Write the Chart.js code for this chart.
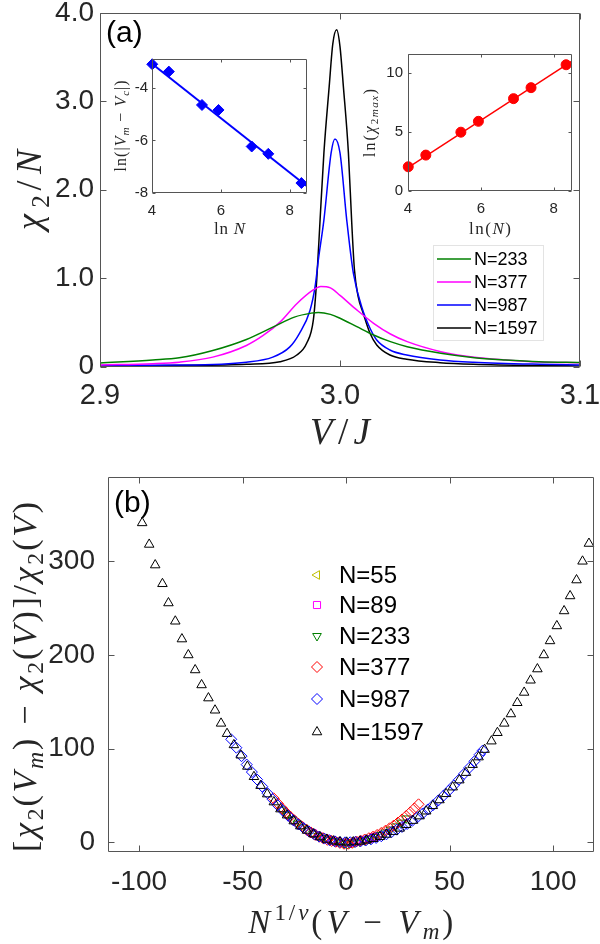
<!DOCTYPE html>
<html lang="en">
<head>
<meta charset="UTF-8" />
<title>chi2 finite size scaling</title>
<style>
  body { margin: 0; background: #fff; }
  #wrap { position: relative; width: 600px; height: 944px; overflow: hidden; }
  canvas { position: absolute; }
</style>
</head>
<body>
<div id="wrap">
  <canvas id="chartA" width="600" height="470" style="left:0;top:0"></canvas>
  <canvas id="insetL" width="215" height="190" style="left:100px;top:50px"></canvas>
  <canvas id="insetR" width="240" height="195" style="left:355px;top:45px"></canvas>
  <canvas id="chartB" width="600" height="474" style="left:0;top:470px"></canvas>
</div>

<script src="https://cdn.jsdelivr.net/npm/chart.js"></script>
<script>
const SANS = '"Liberation Sans", Arial, sans-serif';
const SERIF = '"Liberation Serif", "Times New Roman", serif';
const INK = '#262626';
const AXIS = '#555555';

// ---- panel (a): chi2/N against V/J ----
const vTicksA = [2.9, 3.0, 3.1];
const vLabelsA = ['2.9', '3.0', '3.1'];
const chiTicksA = [0, 1, 2, 3, 4];
const chiLabelsA = ['0', '1.0', '2.0', '3.0', '4.0'];
const namesA = ['N=233', 'N=377', 'N=987', 'N=1597'];
const colorsA = ['#008000', '#ff00ff', '#0000ff', '#000000'];

const v233 = [2.900, 2.922, 2.933, 2.947, 2.961, 2.972, 2.981, 2.988, 2.991, 2.996, 3.000, 3.007, 3.014, 3.021, 3.028, 3.042, 3.056, 3.069, 3.083, 3.100];
const chi233 = [0.040, 0.074, 0.098, 0.181, 0.306, 0.445, 0.559, 0.604, 0.612, 0.590, 0.546, 0.451, 0.357, 0.281, 0.224, 0.150, 0.100, 0.074, 0.054, 0.045];

const v377 = [2.900, 2.922, 2.933, 2.947, 2.961, 2.968, 2.975, 2.982, 2.989, 2.992, 2.996, 3.000, 3.007, 3.014, 3.021, 3.028, 3.042, 3.056, 3.069, 3.083, 3.100];
const chi377 = [0.018, 0.032, 0.049, 0.106, 0.238, 0.351, 0.502, 0.710, 0.869, 0.906, 0.890, 0.805, 0.640, 0.489, 0.368, 0.281, 0.168, 0.104, 0.074, 0.051, 0.042];

const v987 = [2.900, 2.933, 2.961, 2.972, 2.979, 2.983, 2.9875, 2.9896, 2.991, 2.9933, 2.9963, 2.9979, 3.000, 3.0028, 3.0056, 3.0097, 3.0125, 3.0153, 3.0208, 3.0278, 3.0417, 3.0556, 3.0833, 3.100];
const chi987 = [0.012, 0.016, 0.049, 0.106, 0.219, 0.370, 0.634, 0.900, 1.210, 1.660, 2.416, 2.574, 2.416, 1.660, 1.050, 0.620, 0.433, 0.300, 0.187, 0.130, 0.074, 0.048, 0.025, 0.018];

const v1597 = [2.900, 2.933, 2.961, 2.975, 2.982, 2.9861, 2.9889, 2.9903, 2.9917, 2.9933, 2.9955, 2.9970, 2.9986, 3.0000, 3.0014, 3.0035, 3.0049, 3.0060, 3.0075, 3.0097, 3.0125, 3.0153, 3.0208, 3.0278, 3.0417, 3.0556, 3.0833, 3.100];
const chi1597 = [0.005, 0.011, 0.025, 0.054, 0.130, 0.263, 0.527, 0.980, 1.660, 2.420, 3.170, 3.650, 3.810, 3.620, 3.170, 2.420, 1.620, 1.100, 0.800, 0.600, 0.376, 0.244, 0.130, 0.082, 0.043, 0.025, 0.010, 0.006];

// ---- insets ----
const lnN = [4.007, 4.489, 5.451, 5.932, 6.895, 7.376, 8.338];
const lnDV = [-3.10, -3.38, -4.65, -4.84, -6.23, -6.51, -7.62];
const lnDVFitX = [4.0, 8.5];
const lnDVFitY = [-3.08, -7.74];
const lnChiMax = [2.05, 3.04, 4.98, 5.90, 7.82, 8.75, 10.69];
const lnChiFitX = [4.0, 8.5];
const lnChiFitY = [1.98, 11.0];
const insetXTicks = [4, 6, 8];
const insetLYTicks = [-8, -6, -4];
const insetRYTicks = [0, 5, 10];

// ---- panel (b): scaling collapse ----
const xTicksB = [-100, -50, 0, 50, 100];
const yTicksB = [0, 100, 200, 300];
const namesB = ['N=55', 'N=89', 'N=233', 'N=377', 'N=987', 'N=1597'];

const x55 = [-12, -8.5, -5, -1.5, 2, 5.5, 9];
const y55 = [5.5, 2.8, 1.0, -1.5, -1.0, 0.8, 2.5];

const x89 = [-16, -13, -10, -7, -4, -1, 2, 5, 8, 11, 14];
const y89 = [9.5, 6.3, 3.8, 1.9, 0.6, -1.0, -0.6, 0.7, 1.9, 3.5, 5.8];

const x233 = [-31, -28.5, -26, -23.5, -21, -18.5, -16, -13.5, -11, -8.5, -6, -3.5, -1, 1.5, 4, 6.5, 9, 11.5, 14, 16.5, 19, 21.5, 24, 26.5, 29];
const y233 = [35, 29.5, 24.5, 20, 16, 12.5, 9.4, 6.8, 4.6, 2.8, 1.4, 0.4, -1.0, -1.2, 0, 0.9, 2.2, 3.8, 5.7, 7.9, 10.5, 13.6, 17.0, 21.0, 25.5];

const x377 = [-35, -33, -31, -29, -27, -25, -23, -21, -19, -17, -15, -13, -11, -9, -7, -5, -3, -1, 1, 3, 5, 7, 9, 11, 13, 15, 17, 19, 21, 23, 25, 27, 29, 31, 33, 35];
const y377 = [47, 41.5, 36.5, 31.8, 27.5, 23.5, 19.8, 16.4, 13.3, 10.6, 8.1, 6.0, 4.2, 2.7, 1.5, 0.6, -0.6, -1.5, -1.5, -0.5, 0.9, 1.8, 3.0, 4.4, 6.0, 7.9, 10.0, 12.4, 15.0, 17.9, 21.0, 24.4, 28.1, 32.0, 36.2, 40.6];

const x987 = [-55.5, -53, -50.5, -48, -45.5, -43, -40.5, -38, -35.5, -33, -30.5, -28, -25.5, -23, -20.5, -18, -15.5, -13, -10.5, -8, -5.5, -3, -0.5, 2, 4.5, 7, 9.5, 12, 14.5, 17, 19.5, 22, 24.5, 27, 29.5, 32, 34.5, 37, 39.5, 42, 44.5, 47, 49.5, 52, 54.5, 57, 59.5, 62, 64.5, 66];
const y987 = [110, 101, 92, 83, 75, 67, 59.5, 52.5, 46, 39.5, 33.7, 28.4, 23.5, 19.1, 15.2, 11.7, 8.7, 6.1, 4.0, 2.3, 1.1, 0.3, 0, 0.1, 0.5, 1.1, 2.0, 3.2, 4.7, 6.5, 8.6, 10.9, 13.5, 16.4, 19.6, 23.0, 26.8, 30.8, 35.1, 39.7, 44.6, 49.7, 55.1, 60.8, 66.8, 73.1, 79.6, 86.5, 93.6, 98];

const x1597 = [-98.5, -95.1, -92.2, -88.7, -85.8, -82.5, -79.3, -76.2, -72.9, -69.8, -66.5, -63.3, -60.4, -57.5, -54.2, -50.9, -47.7, -44.5, -41.3, -38.1, -34.9, -31.7, -28.5, -25.3, -22.1, -18.9, -15.7, -12.5, -9.3, -6.1, -2.9, 0.3, 3.5, 6.7, 9.9, 13.1, 16.3, 19.5, 22.7, 25.9, 29.1, 32.3, 35.5, 38.7, 41.9, 45.1, 48.3, 51.5, 54.7, 57.9, 61.1, 64.0, 66.9, 70.2, 73.1, 76.4, 79.6, 82.7, 86.0, 89.1, 92.4, 95.5, 98.5, 101.8, 105.3, 108.2, 111.3, 114.2, 117.3];
const y1597 = [341, 318, 296, 276, 255.5, 236, 217, 200, 184, 168, 154, 141, 127, 116, 104, 93, 81, 70, 60.5, 51.5, 43, 35.5, 29, 22.7, 17.3, 12.7, 8.8, 5.6, 3.1, 1.3, 0.3, 0, 0.3, 1.0, 2.2, 3.8, 5.9, 8.4, 11.4, 14.9, 18.8, 23.2, 28, 33.2, 39, 45.2, 51.8, 58.9, 66.4, 74.4, 82.9, 91, 99, 108, 117, 127, 137, 149, 160, 173, 185, 200, 215, 231, 247, 263, 280, 300, 319];

// ---------------------------------------------------------------
const pts = (xs, ys) => xs.map((x, i) => ({ x: x, y: ys[i] }));

function linAxis(o) {
  return {
    type: 'linear', position: o.pos, min: o.min, max: o.max,
    grid: { display: false, drawTicks: false },
    border: { display: false },
    afterBuildTicks: s => { s.ticks = o.ticks.map(v => ({ value: v })); },
    afterFit: s => {
      if (o.pos === 'left') s.width = o.fit; else s.height = o.fit;
      s.paddingLeft = 0; s.paddingRight = 0; s.paddingTop = 0; s.paddingBottom = 0;
    },
    ticks: {
      autoSkip: false, maxRotation: 0, minRotation: 0, padding: o.pad, color: INK,
      font: { family: SANS, size: o.size },
      callback: (v, i) => o.labels[i]
    }
  };
}

// math-like label: runs of plain / italic / sub / superscript text,
// spread out to a given width the way LaTeX spaces its symbols
function richText(ctx, runs, cx, cy, size, width, rot) {
  ctx.save();
  ctx.translate(cx, cy);
  if (rot) ctx.rotate(rot);
  const glyphs = [];
  let w = 0, em = 0;
  runs.forEach(r => {
    const fs = size * (r.s || 1);
    const font = (r.it ? 'italic ' : '') + fs + 'px ' + SERIF;
    ctx.font = font;
    for (const ch of r.t) {
      const cw = ctx.measureText(ch).width;
      glyphs.push({ ch: ch, font: font, cw: cw, fs: fs, dy: (r.dy || 0) * size });
      w += cw;
    }
  });
  glyphs.slice(0, -1).forEach(g => { em += g.fs; });
  const k = width && em ? Math.max(0, (width - w) / em) : 0;
  let x = -(w + k * em) / 2;
  ctx.fillStyle = INK;
  ctx.textBaseline = 'alphabetic';
  glyphs.forEach(g => {
    ctx.font = g.font;
    ctx.fillText(g.ch, x, g.dy + size * 0.33);
    x += g.cw + k * g.fs;
  });
  ctx.restore();
}

function framePlugin(f) {
  return {
    id: 'frame',
    afterDraw(chart) {
      const ctx = chart.ctx, a = chart.chartArea;
      const sx = chart.scales.x, sy = chart.scales.y;
      const L = Math.round(a.left) + 0.5, R = Math.round(a.right) - 0.5;
      const T = Math.round(a.top) + 0.5, B = Math.round(a.bottom) - 0.5;
      ctx.save();
      ctx.strokeStyle = AXIS;
      ctx.lineWidth = 1;
      ctx.beginPath();
      ctx.rect(L, T, R - L, B - T);
      sx.ticks.forEach(t => {
        const p = Math.round(sx.getPixelForValue(t.value)) + 0.5;
        ctx.moveTo(p, B); ctx.lineTo(p, B - f.tick);
        ctx.moveTo(p, T); ctx.lineTo(p, T + f.tick);
      });
      sy.ticks.forEach(t => {
        const p = Math.round(sy.getPixelForValue(t.value)) + 0.5;
        ctx.moveTo(L, p); ctx.lineTo(L + f.tick, p);
        ctx.moveTo(R, p); ctx.lineTo(R - f.tick, p);
      });
      ctx.stroke();
      ctx.restore();
      const xt = f.xTitle, yt = f.yTitle;
      richText(ctx, xt.runs, (a.left + a.right) / 2, xt.y, xt.size, xt.w, 0);
      richText(ctx, yt.runs, yt.x, yt.y, yt.size, yt.w, -Math.PI / 2);
      if (f.tag) {
        ctx.save();
        ctx.fillStyle = '#000';
        ctx.font = f.tag.size + 'px ' + SANS;
        ctx.textBaseline = 'alphabetic';
        ctx.fillText(f.tag.text, f.tag.x, f.tag.y);
        ctx.restore();
      }
      if (f.legend) f.legend(chart);
    }
  };
}

function makeChart(id, datasets, xo, yo, pad, frame) {
  return new Chart(document.getElementById(id), {
    type: 'scatter',
    data: { datasets: datasets },
    options: {
      responsive: false, animation: false, devicePixelRatio: 1, events: [],
      layout: { padding: pad },
      plugins: { legend: { display: false }, tooltip: { enabled: false } },
      scales: { x: linAxis(Object.assign({ pos: 'bottom' }, xo)), y: linAxis(Object.assign({ pos: 'left' }, yo)) }
    },
    plugins: [framePlugin(frame)]
  });
}

// ---------- panel (a) ----------
const curvesA = [[v233, chi233], [v377, chi377], [v987, chi987], [v1597, chi1597]];
const dsA = curvesA.map((c, i) => ({
  label: namesA[i], data: pts(c[0], c[1]), showLine: true, pointRadius: 0,
  borderColor: colorsA[i], borderWidth: 1.5, cubicInterpolationMode: 'monotone'
}));

makeChart('chartA', dsA,
  { min: 2.9, max: 3.1, ticks: vTicksA, labels: vLabelsA, size: 29, pad: 12, fit: 103.5 },
  { min: 0, max: 4, ticks: chiTicksA, labels: chiLabelsA, size: 28, pad: 6, fit: 100 },
  { left: 0, right: 20, top: 13, bottom: 0 },
  {
    tick: 6,
    xTitle: { runs: [{ t: 'V', it: 1 }, { t: '/' }, { t: 'J', it: 1 }], y: 432, size: 37, w: 60 },
    yTitle: { runs: [{ t: 'χ', it: 1 }, { t: '2', s: 0.7, dy: 0.22 }, { t: '/' }, { t: 'N', it: 1 }], x: 29, y: 190, size: 36, w: 80 },
    tag: { text: '(a)', x: 106, y: 42, size: 30 },
    legend(chart) {
      const ctx = chart.ctx;
      ctx.save();
      ctx.fillStyle = '#fff';
      ctx.strokeStyle = '#e3e3e3';
      ctx.lineWidth = 1;
      ctx.fillRect(433.5, 245.5, 110, 95);
      ctx.strokeRect(433.5, 245.5, 110, 95);
      ctx.font = '18px ' + SANS;
      ctx.textBaseline = 'middle';
      chart.data.datasets.forEach((d, i) => {
        const y = 259 + i * 23;
        ctx.strokeStyle = d.borderColor;
        ctx.lineWidth = 1.5;
        ctx.beginPath(); ctx.moveTo(437, y); ctx.lineTo(471, y); ctx.stroke();
        ctx.fillStyle = '#000';
        ctx.fillText(d.label, 474, y + 1);
      });
      ctx.restore();
    }
  });

// ---------- insets ----------
makeChart('insetL', [
  { data: pts(lnN, lnDV), pointStyle: 'rectRot', pointRadius: 5.5, backgroundColor: '#0000ff', borderColor: '#0000ff', borderWidth: 1, clip: false },
  { data: pts(lnDVFitX, lnDVFitY), showLine: true, pointRadius: 0, borderColor: '#0000ff', borderWidth: 2 }
],
  { min: 4, max: 8.5, ticks: insetXTicks, labels: insetXTicks.map(String), size: 15, pad: 9, fit: 47 },
  { min: -8, max: -2.9, ticks: insetLYTicks, labels: insetLYTicks.map(String), size: 15, pad: 4, fit: 52 },
  { left: 0, right: 8, top: 9, bottom: 0 },
  {
    tick: 3,
    xTitle: { runs: [{ t: 'ln ' }, { t: 'N', it: 1 }], y: 178, size: 17, w: 31 },
    yTitle: { runs: [{ t: 'ln(|' }, { t: 'V', it: 1 }, { t: 'm', it: 1, s: 0.7, dy: 0.2 }, { t: ' − ' }, { t: 'V', it: 1 }, { t: 'c', it: 1, s: 0.7, dy: 0.2 }, { t: '|)' }], x: 21, y: 76, size: 16, w: 91 }
  });

makeChart('insetR', [
  { data: pts(lnN, lnChiMax), pointStyle: 'circle', pointRadius: 5, backgroundColor: '#ff0000', borderColor: '#ff0000', borderWidth: 1, clip: false },
  { data: pts(lnChiFitX, lnChiFitY), showLine: true, pointRadius: 0, borderColor: '#ff0000', borderWidth: 1.5 }
],
  { min: 4, max: 8.5, ticks: insetXTicks, labels: insetXTicks.map(String), size: 15, pad: 9, fit: 49 },
  { min: 0, max: 11.6, ticks: insetRYTicks, labels: insetRYTicks.map(String), size: 15, pad: 5, fit: 53 },
  { left: 0, right: 23, top: 9, bottom: 0 },
  {
    tick: 3,
    xTitle: { runs: [{ t: 'ln(' }, { t: 'N', it: 1 }, { t: ')' }], y: 183, size: 17, w: 42 },
    yTitle: { runs: [{ t: 'ln(' }, { t: 'χ', it: 1 }, { t: '2', s: 0.7, dy: 0.2 }, { t: 'max', it: 1, s: 0.7, dy: 0.2 }, { t: ')' }], x: 15, y: 78, size: 16, w: 68 }
  });

// ---------- panel (b) ----------
const seriesB = [[x55, y55], [x89, y89], [x233, y233], [x377, y377], [x987, y987], [x1597, y1597]];
const styleB = [
  { c: '#bfbf00', p: 'triangle', r: 5, rot: -90 },
  { c: '#ff00ff', p: 'rect', r: 5, rot: 0 },
  { c: '#008000', p: 'triangle', r: 5, rot: 180 },
  { c: '#ff0000', p: 'rectRot', r: 5.5, rot: 0 },
  { c: '#0000ff', p: 'rectRot', r: 5.5, rot: 0 },
  { c: '#000000', p: 'triangle', r: 5.5, rot: 0 }
];
const dsB = seriesB.map((s, i) => ({
  label: namesB[i], data: pts(s[0], s[1]), order: 5 - i, clip: false,
  pointStyle: styleB[i].p, pointRotation: styleB[i].rot, pointRadius: styleB[i].r,
  borderColor: styleB[i].c, backgroundColor: 'rgba(0,0,0,0)', borderWidth: 1
}));

makeChart('chartB', dsB,
  { min: -115, max: 119.5, ticks: xTicksB, labels: xTicksB.map(String), size: 28, pad: 14, fit: 92.3 },
  { min: -10, max: 390, ticks: yTicksB, labels: yTicksB.map(String), size: 28, pad: 13, fit: 108 },
  { left: 0, right: 1, top: 7, bottom: 0 },
  {
    tick: 6,
    xTitle: {
      runs: [{ t: 'N', it: 1 }, { t: '1/', s: 0.7, dy: -0.4 }, { t: 'ν', it: 1, s: 0.7, dy: -0.4 }, { t: '(' }, { t: 'V', it: 1 }, { t: ' − ' }, { t: 'V', it: 1 }, { t: 'm', it: 1, s: 0.7, dy: 0.2 }, { t: ')' }],
      y: 452, size: 33, w: 205
    },
    yTitle: {
      runs: [{ t: '[' }, { t: 'χ', it: 1 }, { t: '2', s: 0.7, dy: 0.2 }, { t: '(' }, { t: 'V', it: 1 }, { t: 'm', it: 1, s: 0.7, dy: 0.2 }, { t: ') − ' },
        { t: 'χ', it: 1 }, { t: '2', s: 0.7, dy: 0.2 }, { t: '(' }, { t: 'V', it: 1 }, { t: ')]/' },
        { t: 'χ', it: 1 }, { t: '2', s: 0.7, dy: 0.2 }, { t: '(' }, { t: 'V', it: 1 }, { t: ')' }],
      x: 25, y: 207, size: 34, w: 350
    },
    tag: { text: '(b)', x: 114, y: 42, size: 30 },
    legend(chart) {
      const ctx = chart.ctx;
      const rows = [105, 135, 166, 197, 229, 262];
      ctx.save();
      ctx.font = '24px ' + SANS;
      ctx.textBaseline = 'middle';
      chart.data.datasets.forEach((d, i) => {
        ctx.strokeStyle = d.borderColor;
        ctx.fillStyle = 'rgba(0,0,0,0)';
        ctx.lineWidth = 1;
        if (Chart.helpers && Chart.helpers.drawPoint) {
          Chart.helpers.drawPoint(ctx, { pointStyle: d.pointStyle, rotation: d.pointRotation, radius: d.pointRadius, borderWidth: 1 }, 317, rows[i]);
        }
        ctx.fillStyle = '#000';
        ctx.fillText(d.label, 339, rows[i] + 1);
      });
      ctx.restore();
    }
  });
</script>
</body>
</html>
